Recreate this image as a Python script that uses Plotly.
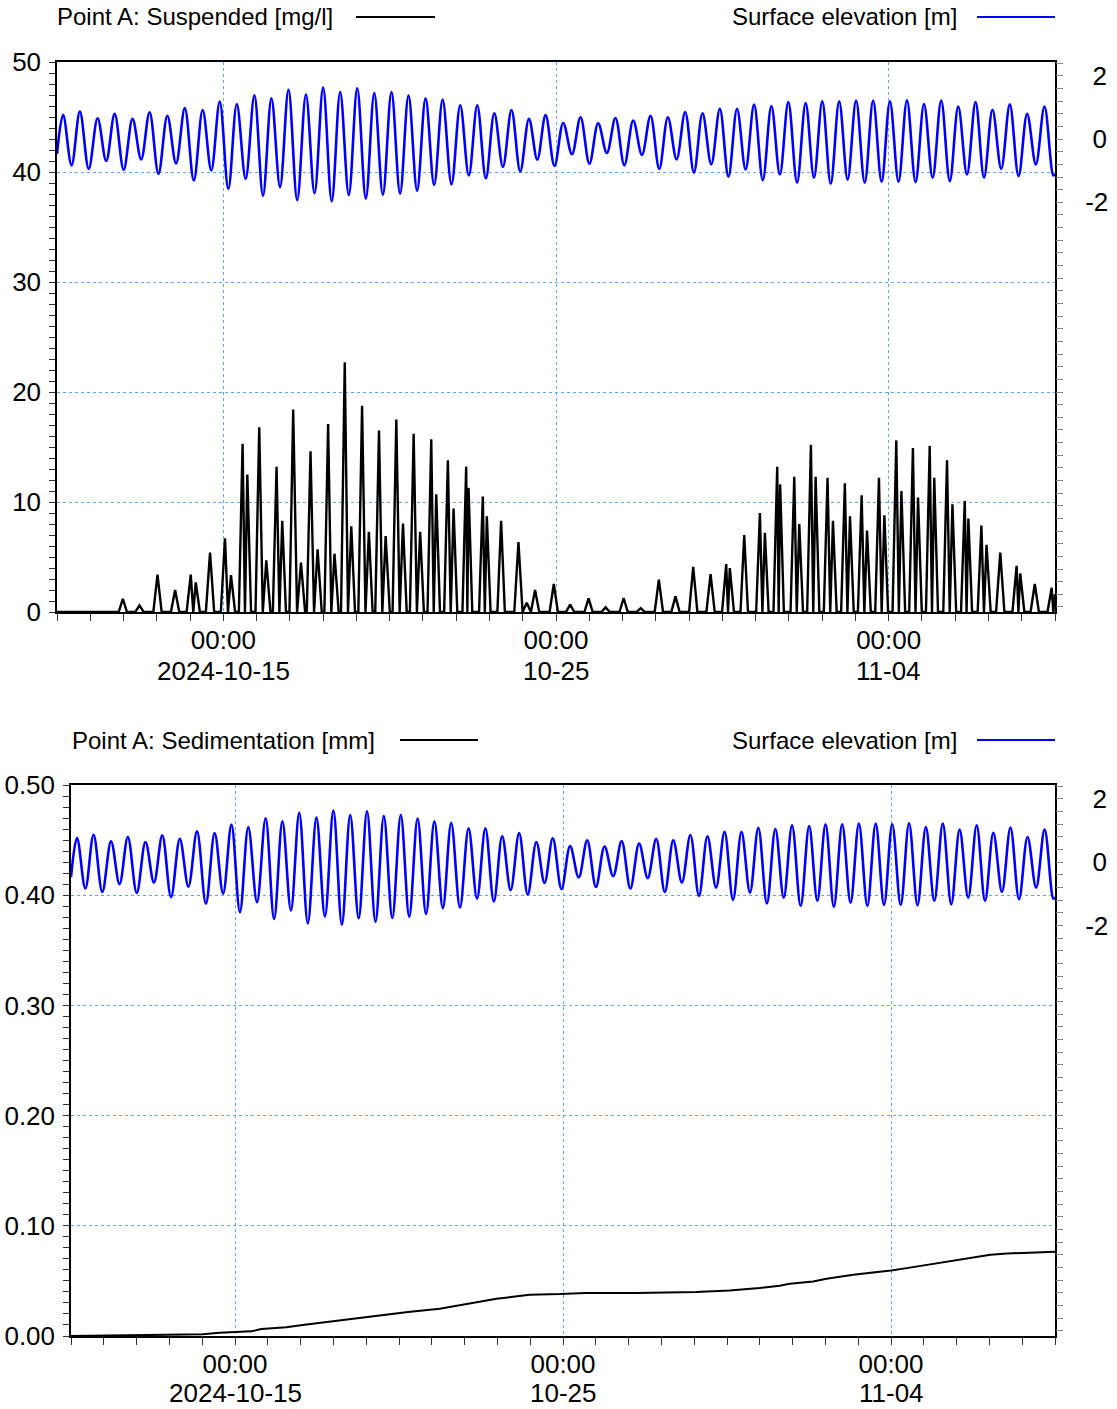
import pandas as pd
import plotly.graph_objects as go

# ---------------- data ----------------
START = pd.Timestamp("2024-10-10 00:00")
END = pd.Timestamp("2024-11-09 00:00")

# Surface elevation [m]: high and low waters (hours after 2024-10-10 00:00)
hw_hours = [4.4, 16.5, 29.3, 41.6, 54.5, 66.8, 79.6, 92.2, 105.1, 117.4,
            129.7, 142.4, 154.7, 167.0, 179.6, 192.0, 204.3, 216.6, 228.9, 241.3,
            253.6, 265.9, 278.2, 290.9, 303.2, 315.5, 327.9, 340.5, 352.5, 365.2,
            377.7, 390.4, 402.9, 415.7, 428.2, 440.7, 453.2, 465.7, 478.2, 490.6,
            502.9, 515.4, 527.6, 540.1, 552.1, 564.3, 576.5, 588.8, 600.9, 613.2,
            625.5, 637.9, 650.2, 662.7, 674.9, 687.4, 699.9, 712.4]
hw_levels = [0.77, 0.87, 0.66, 0.80, 0.64, 0.85, 0.74, 0.98, 0.92, 1.19,
             1.11, 1.39, 1.29, 1.56, 1.41, 1.63, 1.49, 1.61, 1.46, 1.49,
             1.38, 1.29, 1.25, 1.07, 1.07, 0.82, 0.92, 0.64, 0.76, 0.51,
             0.69, 0.50, 0.67, 0.59, 0.74, 0.69, 0.86, 0.82, 0.96, 0.96,
             1.09, 1.05, 1.17, 1.14, 1.20, 1.20, 1.22, 1.22, 1.20, 1.23,
             1.11, 1.22, 1.03, 1.17, 0.93, 1.10, 0.80, 1.03]
lw_hours = [0.0, 10.5, 22.9, 35.5, 48.1, 60.7, 73.2, 85.9, 98.7, 111.3, 123.6,
            136.1, 148.6, 160.9, 173.3, 185.8, 198.2, 210.5, 222.8, 235.1, 247.5,
            259.8, 272.1, 284.6, 297.1, 309.4, 321.7, 334.2, 346.5, 358.9, 371.5,
            384.1, 396.7, 409.3, 422.0, 434.5, 447.0, 459.5, 472.0, 484.4, 496.8,
            509.2, 521.5, 533.9, 546.1, 558.2, 570.4, 582.7, 594.9, 607.1, 619.4,
            631.7, 644.1, 656.5, 668.8, 681.2, 693.7, 706.2, 718.8, 720.0]
lw_levels = [-0.47, -0.83, -0.94, -0.69, -0.97, -0.64, -1.10, -0.77, -1.31, -0.99, -1.58,
             -1.26, -1.79, -1.52, -1.93, -1.71, -1.97, -1.77, -1.88, -1.76, -1.72,
             -1.63, -1.45, -1.43, -1.15, -1.24, -0.88, -1.02, -0.65, -0.85, -0.48,
             -0.78, -0.44, -0.83, -0.50, -0.94, -0.64, -1.06, -0.80, -1.19, -0.96,
             -1.30, -1.12, -1.38, -1.22, -1.41, -1.28, -1.38, -1.35, -1.35, -1.36,
             -1.22, -1.33, -1.12, -1.22, -0.94, -1.17, -0.80, -1.15, -1.10]

# Suspended sediment [mg/l]: concentration peaks (hours, value)
ssc_peak_hours = [47.5, 59.5, 72.5, 85.2, 96.5, 100.1, 110.4, 121.2, 125.5,
                  133.9, 137.3, 145.9, 151.0, 158.4, 162.5, 170.4, 176.0, 182.9, 188.0,
                  195.6, 200.2, 207.6, 212.3, 220.1, 225.0, 232.3, 237.1, 244.8, 249.6,
                  257.3, 262.0, 270.0, 273.6, 282.0, 286.1, 295.2, 296.9, 307.2, 310.1,
                  320.4, 332.9, 338.9, 344.9, 358.4, 370.2, 383.5, 395.8, 408.8, 421.1,
                  434.2, 446.2, 459.0, 471.5, 482.8, 485.4, 495.8, 507.1, 510.7,
                  519.6, 521.7, 531.9, 535.5, 543.9, 547.3, 555.9, 559.8, 568.4, 572.1,
                  580.5, 584.4, 593.0, 596.9, 605.5, 609.2, 617.5, 621.2, 629.6, 632.9,
                  642.1, 646.0, 654.9, 657.5, 666.9, 670.6, 680.5, 692.3, 694.9,
                  705.4, 717.6, 720.0]
ssc_peak_values = [1.2, 0.6, 3.4, 2.0, 3.4, 2.7, 5.4, 6.7, 3.35,
                   15.3, 12.5, 16.8, 4.7, 13.2, 8.3, 18.4, 4.5, 14.6, 5.7,
                   17.1, 5.3, 22.7, 7.8, 18.75, 7.3, 16.5, 6.9, 17.5, 8.05,
                   16.2, 7.3, 15.7, 10.7, 13.8, 9.4, 13.2, 11.3, 10.5, 8.7,
                   8.3, 6.35, 0.85, 2.0, 2.55, 0.67, 1.24, 0.42, 1.27, 0.36,
                   2.94, 1.42, 4.1, 3.45, 4.36, 4.0, 7.0, 9.0, 7.2,
                   13.2, 11.6, 12.3, 8.0, 15.2, 12.3, 12.2, 8.3, 11.7, 8.7,
                   10.6, 7.4, 12.2, 8.8, 15.6, 11.0, 14.9, 10.4, 15.1, 12.2,
                   13.8, 9.8, 10.1, 8.5, 7.85, 6.1, 5.4, 4.2, 3.5,
                   2.55, 2.2, 1.6]

# Sedimentation [mm]
sed_hours = [0, 59.8, 96.4, 108.6, 120, 131.8, 139.2, 157.5, 170.9, 184.3, 208.7,
             231.9, 246.6, 269.8, 294.2, 300.3, 311.3, 323.5, 335.7, 357.7, 376.6,
             413.3, 457.4, 481.8, 503.9, 518.5, 525.9, 543, 552.8, 572.4, 591.9,
             600, 611.5, 623.7, 636, 648.2, 660.4, 672.7, 684.9, 699.6, 720]
sed_values = [0, 0.0006, 0.0015, 0.003, 0.0036, 0.0042, 0.0063, 0.0079, 0.0103, 0.0124,
              0.0157, 0.0193, 0.0218, 0.0248, 0.0299, 0.0314, 0.0338, 0.0356, 0.0375,
              0.038, 0.039, 0.039, 0.0399, 0.0414, 0.0435, 0.0456, 0.0474, 0.0495,
              0.052, 0.0556, 0.058, 0.0595, 0.0616, 0.064, 0.0671, 0.0692, 0.0719,
              0.0737, 0.0749, 0.0758, 0.0764]

major_dates = ["2024-10-15", "2024-10-25", "2024-11-04"]
major_time_labels = ["00:00", "00:00", "00:00"]
major_date_labels = ["2024-10-15", "10-25", "11-04"]
elev_labels = {2: "\u00a02", 0: "\u00a00", -2: "-2"}

# ---------------- helpers ----------------
def to_time(hours):
    return [START + pd.Timedelta(hours=h) for h in hours]

tide = sorted(zip(hw_hours + lw_hours, hw_levels + lw_levels))
tide_t = to_time([p[0] for p in tide])
tide_v = [p[1] for p in tide]

# spikes drawn as peaked marks between baseline points
ssc_t, ssc_v = [0.0], [0.0]
n = len(ssc_peak_hours)
for i, (t, v) in enumerate(zip(ssc_peak_hours, ssc_peak_values)):
    w = 3.0 if v < 7 else 2.7
    lo, hi = t - w, t + w
    if i > 0:
        lo = max(lo, (t + ssc_peak_hours[i - 1]) / 2)
    if i < n - 1:
        hi = min(hi, (t + ssc_peak_hours[i + 1]) / 2)
    ssc_t += [lo, t, hi]
    ssc_v += [0.0, v, 0.0]
ssc_time = to_time(ssc_t)

W, H = 1117, 1409
def px(x):
    return x / W
def py(y):
    return 1 - y / H

FONT = "Liberation Sans, Arial, sans-serif"
GRID = "#5aa8f2"
TICK_SIZE = 26

fig = go.Figure()
fig.add_trace(go.Scatter(x=ssc_time, y=ssc_v, mode="lines", xaxis="x", yaxis="y",
                         line=dict(color="black", width=2.4), showlegend=False))
fig.add_trace(go.Scatter(x=tide_t, y=tide_v, mode="lines", xaxis="x", yaxis="y2",
                         line=dict(color="#0000ff", width=2.6, shape="spline", smoothing=1.0),
                         showlegend=False))
fig.add_trace(go.Scatter(x=to_time(sed_hours), y=sed_values, mode="lines", xaxis="x2", yaxis="y3",
                         line=dict(color="black", width=2), showlegend=False))
fig.add_trace(go.Scatter(x=tide_t, y=tide_v, mode="lines", xaxis="x2", yaxis="y4",
                         line=dict(color="#0000ff", width=2.6, shape="spline", smoothing=1.0),
                         showlegend=False))

def xaxis(domain, anchor):
    return dict(domain=domain, anchor=anchor, type="date", range=[START, END],
                automargin=False,
                tickmode="array", tickvals=major_dates, ticktext=major_time_labels,
                ticks="outside", ticklen=7, tickcolor="#333", tickwidth=1,
                ticklabelstandoff=-3,
                tickfont=dict(family=FONT, size=TICK_SIZE, color="black"),
                showgrid=True, gridcolor=GRID, griddash="dot", gridwidth=1,
                showline=True, linecolor="black", linewidth=1.5, mirror=True,
                zeroline=False,
                minor=dict(dtick=86400000, tick0="2024-10-10", ticks="outside",
                           ticklen=7, tickcolor="#333", showgrid=False))

def yleft(domain, anchor, rng, vals, texts, minor_dtick):
    return dict(domain=domain, anchor=anchor, range=rng, tickmode="array",
                automargin=False,
                tickvals=vals, ticktext=texts, ticks="outside", ticklen=6,
                tickcolor="#333", tickfont=dict(family=FONT, size=TICK_SIZE, color="black"),
                ticklabelstandoff=3,
                showgrid=True, gridcolor=GRID, griddash="dot", gridwidth=1,
                showline=True, linecolor="black", linewidth=1.5, mirror=True,
                zeroline=False,
                minor=dict(dtick=minor_dtick, tick0=0, ticks="outside", ticklen=6,
                           tickcolor="#333", showgrid=False))

elev_ticks = [round(-14.8 + 0.4 * k, 1) for k in range(44)]
elev_text = [elev_labels[int(round(v))] if abs(v - round(v)) < 1e-6 and int(round(v)) in elev_labels
             else "" for v in elev_ticks]

def yright(overlay, anchor):
    return dict(overlaying=overlay, anchor=anchor, side="right", range=[-14.96, 2.44],
                automargin=False,
                tickmode="array", tickvals=elev_ticks, ticktext=elev_text,
                ticks="outside", ticklen=7, tickcolor="#888",
                tickfont=dict(family=FONT, size=TICK_SIZE, color="black"),
                ticklabelstandoff=17, showgrid=False, showline=False, zeroline=False)

top_dom = [py(612), py(62)]
bot_dom = [py(1336), py(785)]

fig.update_layout(
    width=W, height=H, autosize=False,
    margin=dict(l=0, r=0, t=0, b=0, autoexpand=False),
    paper_bgcolor="white", plot_bgcolor="white",
    font=dict(family=FONT, color="black"),
    xaxis=xaxis([px(57), px(1055)], "y"),
    yaxis=yleft(top_dom, "x", [0, 50], [0, 10, 20, 30, 40, 50],
                ["0", "10", "20", "30", "40", "50"], 1),
    yaxis2=yright("y", "x"),
    xaxis2=xaxis([px(71), px(1055)], "y3"),
    yaxis3=yleft(bot_dom, "x2", [0, 0.5], [0, 0.1, 0.2, 0.3, 0.4, 0.5],
                 ["0.00", "0.10", "0.20", "0.30", "0.40", "0.50"], 0.01),
    yaxis4=yright("y3", "x2"),
)

# second row of the date tick labels
for xref, y_px in (("x", 671), ("x2", 1393)):
    for d, lab in zip(major_dates, major_date_labels):
        fig.add_annotation(text=lab, xref=xref, yref="paper", x=d, y=py(y_px),
                           xanchor="center", yanchor="middle", showarrow=False,
                           font=dict(family=FONT, size=TICK_SIZE, color="black"))

def legend_item(text, x_text, anchor, y_px, x0, x1, color):
    fig.add_annotation(text=text, xref="paper", yref="paper", x=px(x_text), y=py(y_px),
                       xanchor=anchor, yanchor="middle", showarrow=False,
                       font=dict(family=FONT, size=24, color="black"))
    fig.add_shape(type="line", xref="paper", yref="paper", x0=px(x0), x1=px(x1),
                  y0=py(y_px), y1=py(y_px), line=dict(color=color, width=2))

legend_item("Point A: Suspended [mg/l]", 55, "left", 17, 356, 435, "black")
legend_item("Surface elevation [m]", 959, "right", 17, 977, 1055, "#0000ff")
legend_item("Point A: Sedimentation [mm]", 70, "left", 740, 400, 478, "black")
legend_item("Surface elevation [m]", 959, "right", 740, 977, 1055, "#0000ff")

fig.write_html("out.html", config={"displayModeBar": False},
               post_script="document.body.style.margin='0px';")
